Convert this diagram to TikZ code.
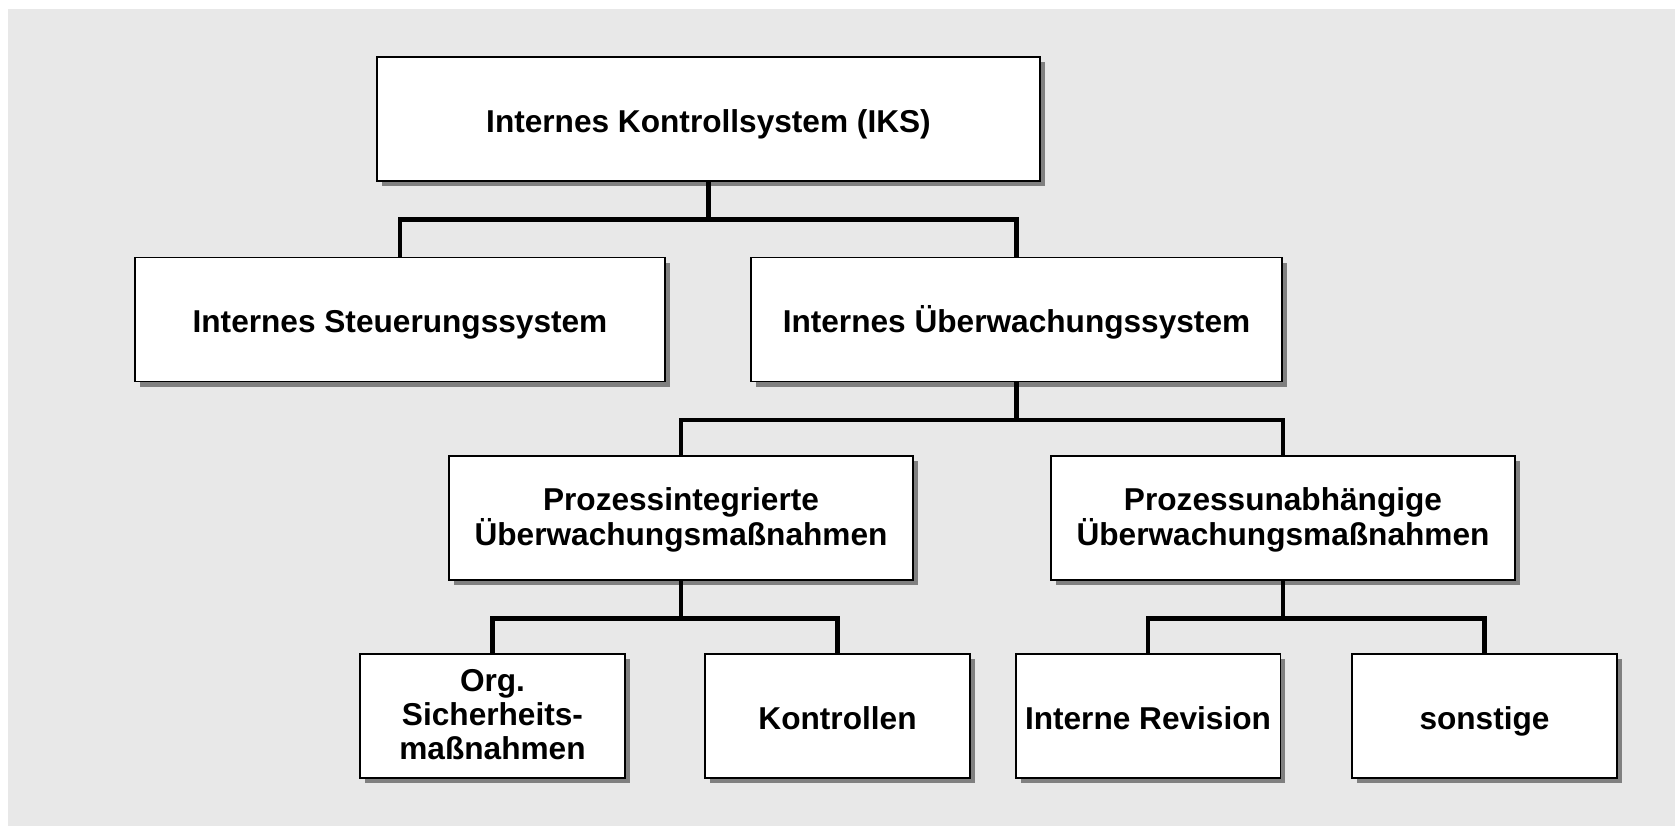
\documentclass[tikz,border=0pt]{standalone}
\usepackage{fontspec}
\setmainfont{Liberation Sans}
\usetikzlibrary{shadows}
\definecolor{bgGray}{HTML}{E8E8E8}
\definecolor{shadowGray}{HTML}{808080}
\newcommand\boxfont{\fontsize{18}{19.6}\selectfont\bfseries\lineskiplimit=-20pt\relax}

\tikzset{
  box/.style={draw, line width=1.1pt, fill=white, align=center,
    minimum height=2.48cm, inner sep=2pt, font=\boxfont,
    text height=19.3pt, text depth=4.5pt,
    drop shadow={shadow xshift=0.1cm, shadow yshift=-0.1cm, fill=shadowGray, opacity=1}},
  twoline/.style={text height=35.3pt},
  threeline/.style={text height=54.5pt},
  conn/.style={line width=2.8pt}
}

\begin{document}
\begin{tikzpicture}[x=0.02cm,y=-0.02cm]
  % frame and grey background
  \useasboundingbox (0,0) rectangle (1675,826);
  \fill[bgGray] (8,9) rectangle (1675,826);
  % level 1
  \node[box, minimum width=13.26cm] (iks) at (708.5,119) {Internes Kontrollsystem (IKS)};
  % level 2
  \node[box, minimum width=10.62cm] (steu) at (400,319.5) {Internes Steuerungssystem};
  \node[box, minimum width=10.62cm] (ueb) at (1016.5,319.5) {Internes Überwachungssystem};
  % level 3
  \node[box, twoline, minimum width=9.29cm] (pint) at (681,518) {Prozessintegrierte\\Überwachungsmaßnahmen};
  \node[box, twoline, minimum width=9.29cm] (punab) at (1283,518) {Prozessunabhängige\\Überwachungsmaßnahmen};
  % level 4
  \node[box, threeline, minimum width=5.3cm] (org) at (492.5,716) {Org.\\Sicherheits-\\maßnahmen};
  \node[box, minimum width=5.3cm] (kontr) at (837.5,716) {Kontrollen};
  \node[box, minimum width=5.3cm] (rev) at (1148,716) {Interne Revision};
  \node[box, minimum width=5.3cm] (sonst) at (1484.5,716) {sonstige};
  % connectors
  \foreach \a/\b in {iks/steu,iks/ueb,ueb/pint,ueb/punab,pint/org,pint/kontr,punab/rev,punab/sonst}
    \draw[conn] (\a.south) -- ++(0,37.5) -| (\b.north);
\end{tikzpicture}
\end{document}
